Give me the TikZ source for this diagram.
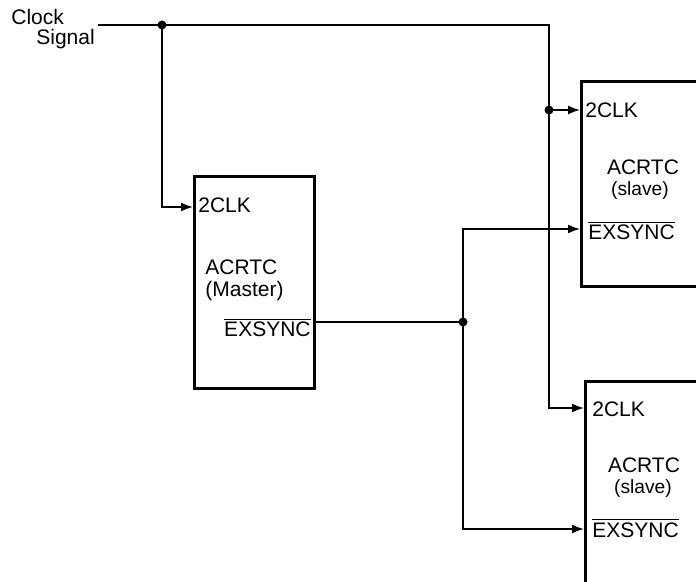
\documentclass[tikz,border=0pt]{standalone}
\usepackage{fontspec}
\setmainfont{Liberation Sans}
\usetikzlibrary{arrows.meta}
\tikzset{
  chip/.style={draw, line width=1.5pt, anchor=north west, inner sep=0pt},
  wire/.style={line width=0.8pt},
  sig/.style={wire, -{Latex[length=6pt,width=4.5pt]}},
  lbl/.style={inner sep=0pt, font=\fontsize{10.5}{12}\selectfont},
  role/.style={lbl, anchor=base, font=\fontsize{9.6}{11}\selectfont},
}
\newcommand{\nsync}{$\overline{\mbox{EXSYNC}}$}
\begin{document}
\begin{tikzpicture}[x=0.5pt,y=-0.5pt]
  \useasboundingbox (0,0) rectangle (696,582);
  \begin{scope}
    \clip (0,0) rectangle (696,582);
    \node[chip, minimum width=60pt, minimum height=106pt] (master) at (193,175) {};
    \node[chip, minimum width=100pt, minimum height=102.5pt] (slaveA) at (580,80) {};
    \node[chip, minimum width=100pt, minimum height=125pt] (slaveB) at (584,380) {};
  \end{scope}
  \node[lbl, anchor=base west] (clk) at (11,25) {Clock};
  \node[lbl, anchor=base west] (sgl) at (36,45) {Signal};
  \node[lbl, anchor=base west] (mclk) at (198,213) {2CLK};
  \node[lbl, anchor=base west] (mname) at (205,275) {ACRTC};
  \node[lbl, anchor=base west] (mrole) at (205,297) {(Master)};
  \node[lbl, anchor=base east] (msync) at (311,337) {\nsync};
  \node[lbl, anchor=base west] (aclk) at (585,118) {2CLK};
  \node[lbl, anchor=base] (aname) at (643,175) {ACRTC};
  \node[role] (arole) at (640,196) {(slave)};
  \node[lbl, anchor=base west] (async) at (588,240) {\nsync};
  \node[lbl, anchor=base west] (bclk) at (592,417) {2CLK};
  \node[lbl, anchor=base] (bname) at (644,473) {ACRTC};
  \node[role] (brole) at (643,494) {(slave)};
  \node[lbl, anchor=base west] (bsync) at (592,537) {\nsync};
  \coordinate (cin) at (98,25);
  \coordinate (j1) at (162,25);
  \coordinate (j2) at (549,110);
  \coordinate (j3) at (463,322);
  \coordinate (c2) at (549,408);
  \draw[sig] (cin) -- (j1 -| j2) -- (c2) -- (slaveB.west |- c2);
  \draw[sig] (j1) |- (master.west |- 0,207);
  \draw[sig] (j2) -- (slaveA.west |- j2);
  \draw[wire] (master.east |- j3) -- (j3);
  \draw[sig] (j3) |- (slaveA.west |- 0,229);
  \draw[sig] (j3) |- (slaveB.west |- 0,529);
  \fill (j1) circle (4.5);
  \fill (j2) circle (4.5);
  \fill (j3) circle (4.5);
\end{tikzpicture}
\end{document}
